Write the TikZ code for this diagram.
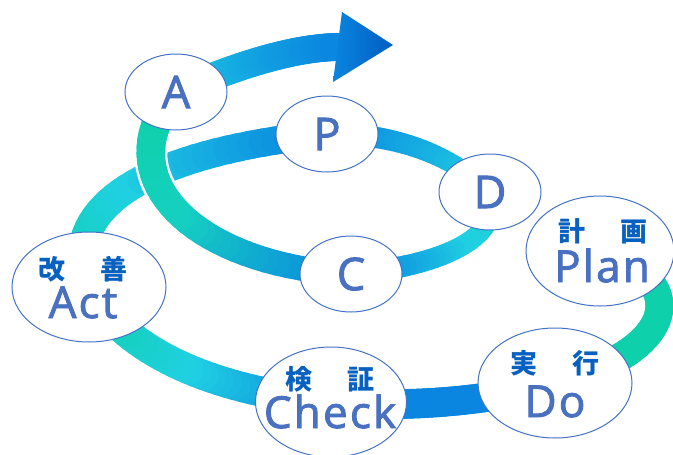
\documentclass[tikz,border=0pt]{standalone}
\usepackage{fontspec}
\newfontfamily\enfont{Open Sans}[LetterSpace=5, FakeBold=2]
\newfontfamily\jpfont{Noto Sans CJK JP}
\usetikzlibrary{shapes.geometric,calc}
\pgfdeclarelayer{background}
\pgfsetlayers{background,main}

\definecolor{cgreen}{RGB}{14,208,170}
\definecolor{ccyan}{RGB}{32,208,226}
\definecolor{cblue}{RGB}{10,134,224}
\definecolor{cdark}{RGB}{0,92,194}
\definecolor{ringblue}{RGB}{68,114,196}
\definecolor{letterblue}{RGB}{74,112,192}
\definecolor{kanjiblue}{RGB}{8,96,192}

\tikzset{
  smallell/.style={ellipse, draw=ringblue, line width=1pt, fill=white,
    minimum width=102pt, minimum height=76pt, inner sep=0pt,
    text=letterblue, font=\enfont\fontsize{45}{45}\selectfont},
  bigell/.style={smallell, minimum width=154pt, minimum height=110pt},
  word/.style={text=letterblue, font=\enfont\fontsize{44}{44}\selectfont,
    inner sep=0pt, anchor=base},
  kanji/.style={text=kanjiblue, font=\jpfont\bfseries\fontsize{27}{27}\selectfont,
    inner sep=0pt},
  band/.style={line cap=round},
}

% one piece of the spiral: from, control, control, to,
% colour at start, middle, end, width at start, end
\newcommand\bandpart[9]{%
  \foreach \k in {1,...,36}{%
    \pgfmathsetmacro\ta{(\k-1)/36}%
    \pgfmathsetmacro\tb{\k/36}%
    \pgfmathsetmacro\bw{#8+(#9-#8)*(\k-0.5)/36}%
    \pgfmathtruncatemacro\pa{min(100,100*(\k-0.5)/18)}%
    \pgfmathtruncatemacro\pb{max(0,100*(\k-18.5)/18)}%
    \ifnum\k<19 \def\bandcol{#6!\pa!#5}\else\def\bandcol{#7!\pb!#6}\fi
    \path (#1) .. controls (#2) and (#3) .. (#4)
      coordinate[pos=\ta] (qa) coordinate[pos=\tb] (qb);
    \draw[band, line width=\bw pt, draw=\bandcol] (qa) -- (qb);
  }}

\begin{document}
\begin{tikzpicture}[x=1pt,y=-1pt]
\useasboundingbox (0,0) rectangle (673,455);

% lower ring
\node[bigell, minimum width=148pt] (plan) at (600,251) {};
\node[kanji] (planjp) at (603,231) {計\hspace{1.3em}画};
\node[word] (planen) at (602,282) {Plan};

\node[bigell] (do) at (555,383) {};
\node[kanji] (dojp) at (555,363) {実\hspace{1.3em}行};
\node[word] (doen) at (555,417) {Do};

\node[bigell, minimum width=151pt] (check) at (331,402) {};
\node[kanji] (checkjp) at (330,379) {検\hspace{1.3em}証};
\node[word] (checken) at (330,428) {Check};

\node[bigell] (act) at (89,287) {};
\node[kanji] (actjp) at (83,269) {改\hspace{1.3em}善};
\node[word] (acten) at (83,318) {Act};

% upper ring
\node[smallell] (P) at (327,134) {P};
\node[smallell] (D) at (490,192) {D};
\node[smallell] (C) at (351,274) {C};
\node[smallell] (A) at (176,92) {A};

\coordinate (tipbase) at (337,47);
\coordinate (tip) at (393,45);
\coordinate (wingup) at (342,12);
\coordinate (wingdown) at (333,82);

\begin{pgfonlayer}{background}
\bandpart{plan.center}{690,280}{680,350}{do.center}{cgreen}{cgreen}{cgreen}{27}{29}
\bandpart{do.center}{490,402}{400,408}{check.center}{cblue}{cblue}{cblue}{29}{30}
\bandpart{check.center}{220,392}{125,355}{act.center}{cblue}{ccyan}{cgreen}{30}{30}
\bandpart{act.center}{55,200}{165,150}{P.center}{cgreen}{ccyan}{cblue}{30}{28}
\bandpart{P.center}{400,133}{455,158}{D.center}{cblue}{cblue!50!ccyan}{ccyan}{22}{18}
\bandpart{D.center}{505,238}{440,266}{C.center}{cgreen!50!ccyan}{ccyan}{cblue}{18}{22}
\draw[white, line width=33pt] (C.center) .. controls (190,265) and (105,175) .. (A.center);
\bandpart{C.center}{190,265}{105,175}{A.center}{cblue}{ccyan!40!cgreen}{cgreen}{24}{30}
\bandpart{A.center}{230,68}{290,48}{tipbase}{ccyan}{ccyan!40!cblue}{cblue}{28}{28}
\shade[left color=cblue, right color=cdark] (wingup) -- (tip) -- (wingdown) -- cycle;
\end{pgfonlayer}
\end{tikzpicture}
\end{document}
